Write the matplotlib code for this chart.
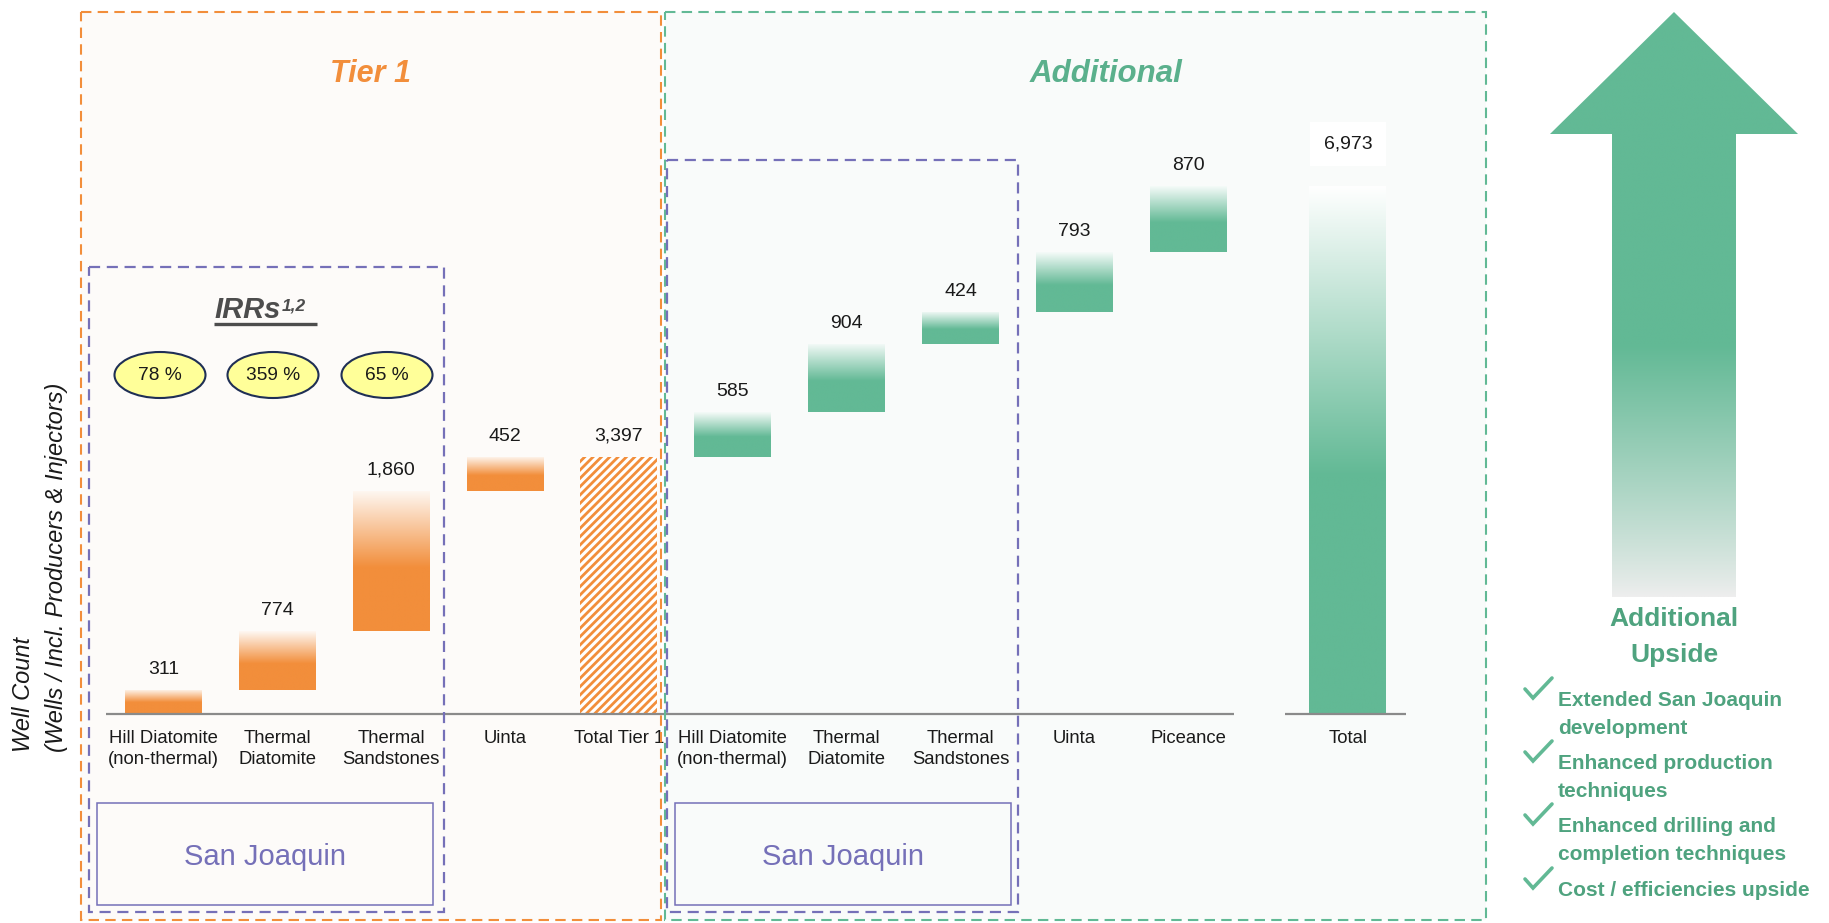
import numpy as np
import matplotlib
matplotlib.use("Agg")
import matplotlib.pyplot as plt
from matplotlib.patches import Rectangle, Ellipse, Polygon
from matplotlib.transforms import blended_transform_factory
from matplotlib.colors import to_rgb

plt.rcParams['font.family'] = ['Liberation Sans', 'DejaVu Sans']
plt.rcParams['hatch.linewidth'] = 2.0

# ---------------- data ----------------
tier1_categories = ["Hill Diatomite\n(non-thermal)", "Thermal\nDiatomite",
                    "Thermal\nSandstones", "Uinta"]
tier1_values = [311, 774, 1860, 452]
tier1_total_label = "Total Tier 1"
tier1_total = 3397
additional_categories = ["Hill Diatomite\n(non-thermal)", "Thermal\nDiatomite",
                         "Thermal\nSandstones", "Uinta", "Piceance"]
additional_values = [585, 904, 424, 793, 870]
grand_total_label = "Total"
grand_total = 6973
irr_labels = ["78 %", "359 %", "65 %"]
upside_items = [["Extended San Joaquin", "development"],
                ["Enhanced production", "techniques"],
                ["Enhanced drilling and", "completion techniques"],
                ["Cost / efficiencies upside"]]

# ---------------- style ----------------
ORANGE = '#F28E3B'
GREEN = '#62B995'
GREEN_DARK = '#4FA37F'
GREEN_TITLE = '#5AB08C'
PURPLE = '#7570B8'
TXT = '#1A1A1A'
GRAY = '#8A8A8A'

W, H = 1829, 923
X0_PX, DX_PX = 163.3, 113.9          # pixel of category 0, pixels per category
BASE_PX, PX_PER_UNIT = 713.5, 0.07565  # baseline pixel (from top), pixels per well
BAR_W = 0.675

fig = plt.figure(figsize=(W / 100, H / 100), dpi=100)
fig.patch.set_facecolor('white')

bg = fig.add_axes([0, 0, 1, 1], zorder=0)
ax = fig.add_axes([0, 0, 1, 1], zorder=1)
fg = fig.add_axes([0, 0, 1, 1], zorder=2)
for a in (bg, fg):
    a.set_xlim(0, W)
    a.set_ylim(H, 0)
    a.axis('off')
ax.axis('off')

XLIM = (-X0_PX / DX_PX, (W - X0_PX) / DX_PX)
YLIM = (-(H - BASE_PX) / PX_PER_UNIT, BASE_PX / PX_PER_UNIT)

# ---------------- backgrounds ----------------
bg.add_patch(Rectangle((81, 12), 580, 908, fc='#FDFBF9', ec='none'))
bg.add_patch(Rectangle((665, 12), 821, 908, fc='#F9FBFA', ec='none'))


def gradient_bar(x, bottom, height, color, frac=0.55, start=0.06):
    bars = ax.bar([x], [height], bottom=[bottom], width=BAR_W,
                  color='none', edgecolor='none', zorder=2)
    bar = bars[0]
    n = 256
    t = np.linspace(0, 1, n)
    mix = np.clip(start + (1 - start) * t / frac, 0, 1)
    c = np.array(to_rgb(color))
    rgb = (1 - mix[:, None]) * np.ones(3)[None, :] + mix[:, None] * c[None, :]
    img = rgb[:, None, :]
    im = ax.imshow(img, extent=(x - BAR_W / 2, x + BAR_W / 2, bottom, bottom + height),
                   origin='upper', aspect='auto', interpolation='bilinear', zorder=2)
    im.set_clip_path(bar)
    return bar


VAL_FS = 14
cat_labels = []
# Tier 1 floating bars
cum = 0
pos = 0
for cat, v in zip(tier1_categories, tier1_values):
    gradient_bar(pos, cum, v, ORANGE)
    cum += v
    ax.annotate(f"{v:,}", (pos, cum), xytext=(0, 11.5), textcoords='offset points',
                ha='center', va='baseline', fontsize=VAL_FS, color=TXT, zorder=4)
    cat_labels.append((pos, cat))
    pos += 1

# Tier 1 total (hatched)
ax.bar([pos], [tier1_total], width=BAR_W, facecolor='white', edgecolor=ORANGE,
       hatch='////', linewidth=0, zorder=2)
ax.annotate(f"{tier1_total:,}", (pos, tier1_total), xytext=(0, 11.5),
            textcoords='offset points', ha='center', va='baseline',
            fontsize=VAL_FS, color=TXT, zorder=4)
cat_labels.append((pos, tier1_total_label))
pos += 1

# Additional floating bars
cum = tier1_total
for cat, v in zip(additional_categories, additional_values):
    gradient_bar(pos, cum, v, GREEN)
    cum += v
    ax.annotate(f"{v:,}", (pos, cum), xytext=(0, 11.5), textcoords='offset points',
                ha='center', va='baseline', fontsize=VAL_FS, color=TXT, zorder=4)
    cat_labels.append((pos, cat))
    pos += 1

# Grand total
total_pos = pos + 0.4
gradient_bar(total_pos, 0, grand_total, GREEN, frac=0.55, start=0.0)
ax.annotate(f"{grand_total:,}", (total_pos, grand_total), xytext=(0, 27),
            textcoords='offset points', ha='center', va='baseline',
            fontsize=VAL_FS, color=TXT, zorder=4,
            bbox=dict(boxstyle='square,pad=0.7', fc='white', ec='none'))
cat_labels.append((total_pos, grand_total_label))

# baselines
ax.hlines(0, -0.5, pos - 0.6, color=GRAY, lw=1.6, zorder=3)
ax.hlines(0, total_pos - 0.55, total_pos + 0.51, color=GRAY, lw=1.6, zorder=3)

# category labels
tr = blended_transform_factory(ax.transData, fg.transData)
for x, lab in cat_labels:
    for k, line in enumerate(lab.split("\n")):
        ax.text(x, 743 + 21 * k, line, transform=tr, ha='center', va='baseline',
                fontsize=13.3, color=TXT, zorder=4)

ax.set_xlim(*XLIM)
ax.set_ylim(*YLIM)

# ---------------- frames ----------------
fg.add_patch(Rectangle((81, 12), 580, 908, fill=False, ec=ORANGE, lw=1.5,
                       linestyle=(0, (5, 3))))
fg.add_patch(Rectangle((665, 12), 821, 908, fill=False, ec=GREEN, lw=1.5,
                       linestyle=(0, (5, 3))))
fg.add_patch(Rectangle((89, 267), 355, 645, fill=False, ec=PURPLE, lw=1.6,
                       linestyle=(0, (5, 3))))
fg.add_patch(Rectangle((667, 160), 351, 752, fill=False, ec=PURPLE, lw=1.6,
                       linestyle=(0, (5, 3))))
for x0 in (97, 675):
    fg.add_patch(Rectangle((x0, 803), 336, 102, fill=False, ec=PURPLE, lw=1.1))
    fg.text(x0 + 168, 857, "San Joaquin", ha='center', va='center',
            fontsize=21, color=PURPLE)

# titles
fg.text(370, 74, "Tier 1", ha='center', va='center', fontsize=22,
        fontweight='bold', fontstyle='italic', color=ORANGE)
fg.text(1106, 74, "Additional", ha='center', va='center', fontsize=22.5,
        fontweight='bold', fontstyle='italic', color=GREEN_TITLE)

# IRRs
irr = fg.text(214, 318, "IRRs", ha='left', va='baseline', fontsize=21,
              fontweight='bold', fontstyle='italic', color='#4D4D4D')
fg.annotate("1,2", xy=(1, 1), xycoords=irr, xytext=(1, -2), textcoords='offset points',
            ha='left', va='top', fontsize=12.5, fontweight='bold', fontstyle='italic',
            color='#4D4D4D')
fg.plot([214, 317], [324, 324], color='#4D4D4D', lw=2.4, solid_capstyle='butt')

for xc, lab in zip((160, 273, 387), irr_labels):
    fg.add_patch(Ellipse((xc, 375), 91, 46, fc='#FFFF99', ec='#1F2F55', lw=1.5))
    fg.text(xc, 376, lab, ha='center', va='center', fontsize=13.8, color=TXT)

# y label
fg.text(23, 752, "Well Count", rotation=90, rotation_mode='anchor', ha='left',
        va='center', fontsize=17, fontstyle='italic', color=TXT)
fg.text(57, 752, "(Wells / Incl. Producers & Injectors)", rotation=90,
        rotation_mode='anchor', ha='left', va='center', fontsize=17,
        fontstyle='italic', color=TXT)

# ---------------- right panel arrow ----------------
arrow_pts = [(1674, 12), (1798, 134), (1736, 134), (1736, 597),
             (1612, 597), (1612, 134), (1550, 134)]
arrow = Polygon(arrow_pts, closed=True, fc='none', ec='none')
fg.add_patch(arrow)
n = 300
yy = np.linspace(12, 597, n)
mix = np.clip((597 - yy) / (597 - 345), 0, 1) ** 0.9
c1 = np.array(to_rgb(GREEN))
c0 = np.array(to_rgb('#EEEEEE'))
rgb = (1 - mix[:, None]) * c0[None, :] + mix[:, None] * c1[None, :]
im = fg.imshow(rgb[:, None, :], extent=(1550, 1798, 597, 12), origin='upper',
               aspect='auto', interpolation='bilinear')
im.set_clip_path(arrow)
fg.set_xlim(0, W)
fg.set_ylim(H, 0)

fg.text(1674, 619, "Additional", ha='center', va='center', fontsize=19,
        fontweight='bold', color=GREEN_DARK)
fg.text(1674, 655, "Upside", ha='center', va='center', fontsize=19,
        fontweight='bold', color=GREEN_DARK)

first_baselines = [706, 769, 832, 896]
for yb, item in zip(first_baselines, upside_items):
    cx, cy = 1525, yb - 17
    fg.plot([cx, cx + 8, cx + 27], [cy, cy + 9, cy - 11], color=GREEN, lw=2.6,
            solid_capstyle='round', solid_joinstyle='miter')
    for k, line in enumerate(item):
        fg.text(1558, yb + 28 * k, line, ha='left', va='baseline', fontsize=15,
                fontweight='bold', color=GREEN_DARK)

fig.savefig("out.png", dpi=100, facecolor='white')
